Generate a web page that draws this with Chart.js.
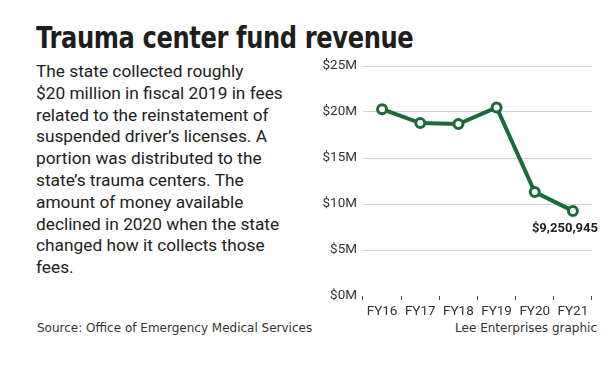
<!DOCTYPE html>
<html>
<head>
<meta charset="utf-8">
<script src="https://cdn.jsdelivr.net/npm/chart.js@4.4.1/dist/chart.umd.min.js"></script>
<style>
  html, body { margin: 0; padding: 0; background: #fff; }
  body { width: 612px; height: 365px; position: relative; overflow: hidden; }
  #title {
    position: absolute; left: 36px; top: 19px;
    font-family: 'DejaVu Sans', sans-serif;
    font-weight: bold; font-size: 31px; color: #1e1e1e; letter-spacing: -0.5px;
    white-space: nowrap; transform: scaleX(0.78); transform-origin: 0 0;
  }
  #body {
    position: absolute; left: 36px; top: 61px; width: 290px;
    font-family: Roboto, sans-serif; font-size: 17.3px; line-height: 21.8px; color: #222;
  }
  .foot {
    position: absolute; top: 321px;
    font-family: 'DejaVu Sans', sans-serif;
    font-size: 12px; color: #333; white-space: nowrap;
  }
  #wrap { position: absolute; left: 310px; top: 50px; width: 300px; height: 300px; }
</style>
</head>
<body>
<div id="title">Trauma center fund revenue</div>
<div id="body">The state collected roughly<br>$20 million in fiscal 2019 in fees<br>related to the reinstatement of<br>suspended driver’s licenses. A<br>portion was distributed to the<br>state’s trauma centers. The<br>amount of money available<br>declined in 2020 when the state<br>changed how it collects those<br>fees.</div>
<div class="foot" style="left:37px;">Source: Office of Emergency Medical Services</div>
<div class="foot" style="right:15px;">Lee Enterprises graphic</div>
<div id="wrap"><canvas id="chart"></canvas></div>
<script>
  // fund revenue by fiscal year, in millions of dollars
  const years = ['FY16', 'FY17', 'FY18', 'FY19', 'FY20', 'FY21'];
  const revenue = [20.3, 18.8, 18.7, 20.5, 11.3, 9.250945];
  const yTicks = [0, 5, 10, 15, 20, 25];
  const lastLabel = '$9,250,945';

  const green = '#1b6b3a';
  const labelFont = 'Roboto, sans-serif';

  // label under the last point
  const lastPointLabel = {
    id: 'lastPointLabel',
    afterDatasetsDraw(chart) {
      let pt = chart.getDatasetMeta(0).data[revenue.length - 1];
      let ctx = chart.ctx;
      ctx.save();
      ctx.font = 'bold 13px ' + labelFont;
      ctx.fillStyle = '#222';
      ctx.textAlign = 'center';
      ctx.textBaseline = 'alphabetic';
      ctx.fillText(lastLabel, pt.x - 8, pt.y + 21);
      ctx.restore();
    },
  };

  let chart = new Chart(document.getElementById('chart'), {
    type: 'line',
    data: {
      labels: years,
      datasets: [{
        data: revenue,
        borderColor: green,
        borderWidth: 4,
        pointRadius: 4.5,
        pointBorderWidth: 3,
        pointBackgroundColor: '#fff',
        pointBorderColor: green,
        tension: 0,
      }],
    },
    options: {
      responsive: true,
      maintainAspectRatio: false,
      animation: false,
      layout: { padding: { top: 16, right: 18, left: 0, bottom: 0 } },
      plugins: { legend: { display: false }, tooltip: { enabled: false } },
      scales: {
        x: {
          offset: true,
          grid: { offset: true, drawOnChartArea: false, tickLength: 4, color: '#444' },
          border: { display: false },
          ticks: { color: '#333', font: { family: labelFont, size: 13.5 }, padding: 4 },
          afterFit(scale) { scale.height = 54; },
        },
        y: {
          min: 0, max: 25,
          afterBuildTicks(scale) { scale.ticks = yTicks.map(v => ({ value: v })); },
          grid: {
            drawTicks: false,
            color: ctx => ctx.tick && ctx.tick.value === 0 ? 'rgba(0,0,0,0)' : '#d0d0d0',
          },
          border: { display: false },
          ticks: {
            color: '#333', font: { family: labelFont, size: 13.5 }, padding: 6,
            callback: v => '$' + v + 'M',
          },
          afterFit(scale) { scale.width = 53; },
        },
      },
    },
    plugins: [lastPointLabel],
  });
</script>
</body>
</html>
